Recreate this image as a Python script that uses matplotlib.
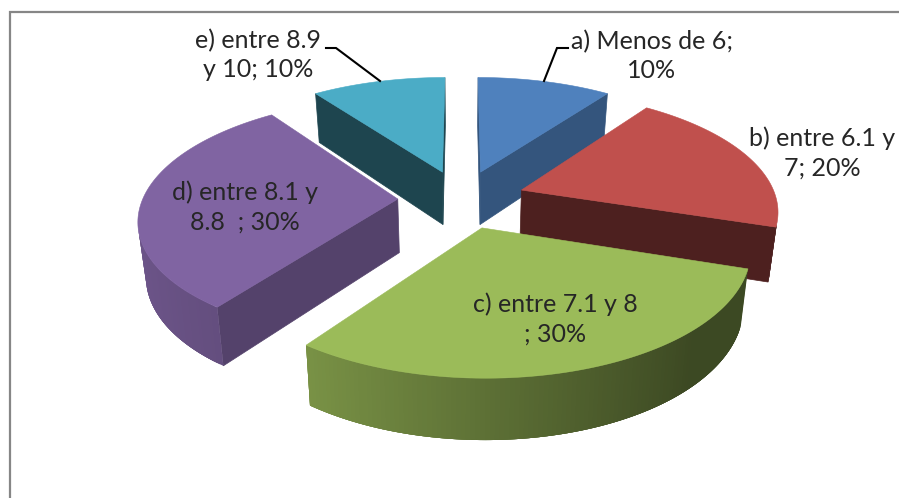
import numpy as np
import matplotlib
matplotlib.use("Agg")
import matplotlib.pyplot as plt
from matplotlib.patches import Polygon

# ---- data ----
labels = ["a) Menos de 6;\n10%", "b) entre 6.1 y\n7; 20%", "c) entre 7.1 y 8\n; 30%",
          "d) entre 8.1 y\n8.8  ; 30%", "e) entre 8.9\ny 10; 10%"]
values = [10, 20, 30, 30, 10]

# ---- styles ----
top_colors = ["#4F81BD", "#C0504D", "#9BBB59", "#8064A2", "#4BACC6"]
radial_shade = [0.66, 0.40, 0.40, 0.66, 0.40]
draw_order = [4, 0, 1, 3, 2]
label_pos = [(652, 56), (822, 153), (555, 319), (245, 207), (258, 55)]
leaders = [[(568, 48), (557, 48), (544, 81)], [(326, 48), (336, 48), (380, 81)]]

# ---- projection ----
CX, CY, A, B, K, DEPTH, SHRINK, EXPLODE = 461.5, 199, 255, 117, 0.155, 55, 0.025, 0.25


def project(X, Y, Z):
    s = (1 - SHRINK * Z) / (1 + K * Y)
    return CX + A * X * s, CY + s * (-B * Y + DEPTH * Z)


def shade(c, f):
    return tuple(v * f for v in matplotlib.colors.to_rgb(c))


def area(p):
    p = np.asarray(p)
    x, y = p[:, 0], p[:, 1]
    return 0.5 * np.sum(x * np.roll(y, -1) - np.roll(x, -1) * y)


fig = plt.figure(figsize=(8.99, 4.98), dpi=100)
ax = fig.add_axes([0, 0, 1, 1])
ax.set_xlim(0, 899)
ax.set_ylim(498, 0)
ax.axis("off")

ax.plot([9.5, 9.5, 899], [498, 12, 12], color="#868686", lw=1.6, solid_joinstyle="miter")

edges = np.cumsum([0] + values) / sum(values) * 2 * np.pi

for i in draw_order:
    t0, t1 = edges[i], edges[i + 1]
    mid = (t0 + t1) / 2
    ox, oy = EXPLODE * np.sin(mid), EXPLODE * np.cos(mid)
    ts = np.linspace(t0, t1, 121)
    col = top_colors[i]
    z = 2 + draw_order.index(i)

    def P(t, Z, r=1.0):
        return project(ox + r * np.sin(t), oy + r * np.cos(t), Z)

    # radial faces (back-face culled)
    for t, sign in ((t0, -1), (t1, 1)):
        q = [P(t, 0, 0), P(t, 0), P(t, 1), P(t, 1, 0)]
        if area(q) * sign > 0:
            c = shade(col, radial_shade[i])
            ax.add_patch(Polygon(q, closed=True, fc=c, ec=c, lw=0.5, zorder=z))
    # outer rim strips with horizontal gradient (back-face culled);
    # each strip overlaps the next so that no seams show
    for k in range(len(ts) - 1):
        a0, a1 = ts[k], ts[k + 1]
        a2 = ts[min(k + 4, len(ts) - 1)]
        q = [P(a0, 0), P(a1, 0), P(a1, 1), P(a0, 1)]
        if area(q) < 0:
            f = np.interp(np.sin((a0 + a1) / 2), [-1, -0.588, 0.7, 1], [0.85, 0.78, 0.39, 0.39])
            c = shade(col, f)
            arc = np.linspace(a0, a2, 5)
            poly = [P(a, 0) for a in arc] + [P(a, 1) for a in arc[::-1]]
            ax.add_patch(Polygon(poly, closed=True, fc=c, ec="none", zorder=z))
    # top face
    top = [P(t0, 0, 0)] + [P(t, 0) for t in ts]
    ax.add_patch(Polygon(top, closed=True, fc=col, ec=col, lw=0.4, zorder=z + 0.5))

for line in leaders:
    xs, ys = zip(*line)
    ax.plot(xs, ys, color="black", lw=1.5, zorder=20, solid_joinstyle="miter")

for lab, (x, y) in zip(labels, label_pos):
    ax.text(x, y, lab, ha="center", va="center", family="Lato", fontsize=18,
            color="#262626", linespacing=1.33, zorder=30)

fig.savefig("out.png", dpi=100, facecolor="white")
